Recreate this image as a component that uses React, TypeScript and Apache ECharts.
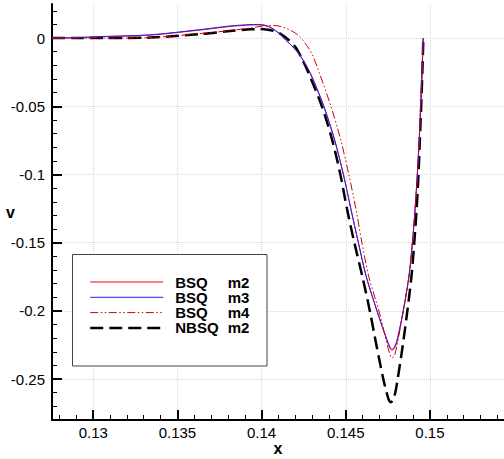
import React, { useEffect, useRef } from 'react';
import * as echarts from 'echarts';

const FONT = '"Liberation Sans", Arial, Helvetica, sans-serif';

const seriesNames = ['BSQ m2', 'BSQ m3', 'BSQ m4', 'NBSQ m2'];

const xMajorTicks = [0.13, 0.135, 0.14, 0.145, 0.15];
const xMinorTicks = [
  0.128, 0.129, 0.13, 0.131, 0.132, 0.133, 0.134, 0.135, 0.136, 0.137, 0.138, 0.139, 0.14,
  0.141, 0.142, 0.143, 0.144, 0.145, 0.146, 0.147, 0.148, 0.149, 0.15, 0.151, 0.152, 0.153, 0.154,
];
const yMajorTicks = [-0.25, -0.2, -0.15, -0.1, -0.05, 0];
const yMinorTicks = [
  -0.27, -0.26, -0.25, -0.24, -0.23, -0.22, -0.21, -0.2, -0.19, -0.18, -0.17, -0.16, -0.15,
  -0.14, -0.13, -0.12, -0.11, -0.1, -0.09, -0.08, -0.07, -0.06, -0.05, -0.04, -0.03, -0.02,
  -0.01, 0, 0.01, 0.02,
];

// BSQ m2
const xM2 = [0.12755, 0.129, 0.1304, 0.13337, 0.13634, 0.13812, 0.13931, 0.13978, 0.1402, 0.14061, 0.14103, 0.14144, 0.14186, 0.14227, 0.14287, 0.1437, 0.14435, 0.14486, 0.1453, 0.14575, 0.14622, 0.14685, 0.14726, 0.14744, 0.14762, 0.14774, 0.14789, 0.14806, 0.14842, 0.14875, 0.14896, 0.14912, 0.14925, 0.14936, 0.14945, 0.14953, 0.1496];
const yM2 = [0, 0.0003, 0.001, 0.0022, 0.0059, 0.0085, 0.0096, 0.0097, 0.0092, 0.0072, 0.0035, -0.0015, -0.0065, -0.0125, -0.025, -0.05, -0.075, -0.1, -0.125, -0.15, -0.175, -0.2, -0.215, -0.2215, -0.2272, -0.229, -0.2274, -0.222, -0.2, -0.175, -0.15, -0.125, -0.1, -0.075, -0.05, -0.025, 0];

// BSQ m3
const xM3 = [0.12755, 0.129, 0.1304, 0.13337, 0.13634, 0.13812, 0.13931, 0.13975, 0.1402, 0.14061, 0.14103, 0.14144, 0.14186, 0.14227, 0.14286, 0.14369, 0.14434, 0.14486, 0.1453, 0.14575, 0.14622, 0.14686, 0.14727, 0.14745, 0.14762, 0.14774, 0.14789, 0.14805, 0.14841, 0.14875, 0.14896, 0.14912, 0.14925, 0.14936, 0.14945, 0.14953, 0.1496];
const yM3 = [0, 0.0003, 0.0011, 0.0024, 0.0062, 0.0089, 0.0099, 0.01, 0.0095, 0.0074, 0.0036, -0.0014, -0.0064, -0.0124, -0.025, -0.05, -0.075, -0.1, -0.125, -0.15, -0.175, -0.2, -0.215, -0.221, -0.2264, -0.228, -0.2266, -0.2212, -0.2, -0.175, -0.15, -0.125, -0.1, -0.075, -0.05, -0.025, 0];

// BSQ m4
const xM4 = [0.12755, 0.129, 0.1304, 0.13337, 0.13634, 0.13812, 0.13931, 0.1402, 0.14061, 0.14103, 0.14144, 0.14186, 0.14227, 0.14263, 0.14299, 0.1434, 0.14412, 0.14471, 0.14518, 0.1456, 0.14596, 0.14637, 0.14697, 0.14747, 0.14762, 0.14774, 0.14789, 0.14803, 0.14842, 0.14875, 0.14896, 0.14912, 0.14925, 0.14936, 0.14945, 0.14953, 0.1496];
const yM4 = [0, 0, 0, 0.0004, 0.0033, 0.0055, 0.0074, 0.009, 0.0093, 0.0088, 0.0072, 0.0048, 0.001, -0.0045, -0.0115, -0.0245, -0.05, -0.075, -0.1, -0.125, -0.15, -0.175, -0.2, -0.225, -0.2318, -0.2345, -0.2328, -0.226, -0.2, -0.175, -0.15, -0.125, -0.1, -0.075, -0.05, -0.025, 0];

// NBSQ m2
const xN2 = [0.12755, 0.129, 0.1304, 0.13337, 0.13634, 0.13812, 0.13931, 0.1399, 0.14037, 0.14079, 0.14121, 0.14162, 0.14204, 0.14239, 0.14275, 0.14358, 0.1442, 0.14468, 0.14507, 0.14551, 0.14599, 0.14643, 0.14682, 0.14723, 0.14741, 0.14756, 0.14768, 0.1478, 0.14795, 0.14809, 0.14839, 0.14866, 0.1489, 0.14907, 0.14921, 0.14932, 0.1494, 0.14948, 0.14955, 0.14961];
const yN2 = [0, 0, 0, 0.0004, 0.0029, 0.0052, 0.0064, 0.0066, 0.0062, 0.005, 0.0025, -0.0015, -0.007, -0.015, -0.0245, -0.05, -0.075, -0.1, -0.125, -0.15, -0.175, -0.2, -0.225, -0.25, -0.259, -0.2653, -0.267, -0.2655, -0.2595, -0.2495, -0.225, -0.2, -0.175, -0.15, -0.125, -0.1, -0.075, -0.05, -0.025, 0];

const pair = (xs: number[], ys: number[]) => xs.map((x, i) => [x, ys[i]]);

const fmt = (v: number) => String(+(+v).toFixed(4));

export default function App() {
  const ref = useRef<HTMLDivElement>(null);
  useEffect(() => {
    if (!ref.current) return;
    const chart = echarts.init(ref.current, undefined, { renderer: 'svg' });
    const axisNameStyle = { fontWeight: 'bold', fontSize: 16, color: '#000', fontFamily: FONT };
    const labelStyle = { color: '#000', fontSize: 15, fontFamily: FONT };
    const gridLine = { show: true, lineStyle: { color: '#d8d8d8', type: 'dotted', width: 1 } };
    const xMin = 0.12755, xMax = 0.1544, yMin = -0.28, yMax = 0.025;
    const smooth = 0.3;
    chart.setOption({
      animation: false,
      backgroundColor: '#fff',
      grid: { left: 52, right: 0, top: 4, bottom: 39, containLabel: false, outerBoundsMode: 'none' },
      xAxis: [
        {
          type: 'value', min: xMin, max: xMax, position: 'bottom',
          axisLine: { show: true, onZero: false, lineStyle: { color: '#000', width: 2 } },
          axisTick: { show: true, inside: true, length: 10, customValues: xMajorTicks, lineStyle: { color: '#000', width: 2 } },
          axisLabel: { show: true, customValues: xMajorTicks, margin: 5, formatter: fmt, ...labelStyle },
          splitLine: { ...gridLine, customValues: xMajorTicks },
          name: 'x', nameLocation: 'middle', nameGap: 20, nameMoveOverlap: false, nameTextStyle: axisNameStyle,
        },
        {
          type: 'value', min: xMin, max: xMax, position: 'bottom',
          axisLine: { show: false, onZero: false },
          axisTick: { show: true, inside: true, length: 5, customValues: xMinorTicks, lineStyle: { color: '#000', width: 1 } },
          axisLabel: { show: false },
          splitLine: { show: false },
        },
      ],
      yAxis: [
        {
          type: 'value', min: yMin, max: yMax, position: 'left',
          axisLine: { show: true, onZero: false, lineStyle: { color: '#000', width: 2 } },
          axisTick: { show: true, inside: true, length: 10, customValues: yMajorTicks, lineStyle: { color: '#000', width: 2 } },
          axisLabel: { show: true, customValues: yMajorTicks, margin: 7, formatter: fmt, ...labelStyle },
          splitLine: { ...gridLine, customValues: yMajorTicks },
          name: 'v', nameLocation: 'middle', nameGap: 37, nameRotate: 0, nameMoveOverlap: false, nameTextStyle: axisNameStyle,
        },
        {
          type: 'value', min: yMin, max: yMax, position: 'left',
          axisLine: { show: false, onZero: false },
          axisTick: { show: true, inside: true, length: 5, customValues: yMinorTicks, lineStyle: { color: '#000', width: 1 } },
          axisLabel: { show: false },
          splitLine: { show: false },
        },
      ],
      legend: {
        orient: 'vertical', left: 89, top: 274.5, padding: 0,
        itemWidth: 73, itemHeight: 10, itemGap: 0.3,
        selectedMode: false, z: 10,
        itemStyle: { opacity: 0 },
        lineStyle: { width: 'inherit' },
        data: seriesNames,
        formatter: (name: string) => {
          const [a, b] = name.split(' ');
          return `{a|${a}}{b|${b}}`;
        },
        textStyle: {
          rich: {
            a: { width: 52.5, padding: [0, 0, 0, 7], fontWeight: 'bold', fontSize: 15, lineHeight: 19, fontFamily: FONT, color: '#000' },
            b: { fontWeight: 'bold', fontSize: 15, lineHeight: 19, fontFamily: FONT, color: '#000' },
          },
        },
      },
      graphic: [
        {
          type: 'rect', z: 5,
          shape: { x: 72.5, y: 254.5, width: 194.5, height: 111.5 },
          style: { fill: '#fff', stroke: '#444', lineWidth: 1 },
        },
      ],
      series: [
        {
          name: seriesNames[0], type: 'line', data: pair(xM2, yM2), symbol: 'none', smooth,
          lineStyle: { color: '#ff0000', width: 1 }, itemStyle: { color: '#ff0000' }, z: 3,
        },
        {
          name: seriesNames[1], type: 'line', data: pair(xM3, yM3), symbol: 'none', smooth,
          lineStyle: { color: '#2020ff', width: 1 }, itemStyle: { color: '#2020ff' }, z: 3,
        },
        {
          name: seriesNames[2], type: 'line', data: pair(xM4, yM4), symbol: 'none', smooth,
          lineStyle: { color: '#cc0000', width: 1, type: [8, 2.5, 1.5, 2.5, 1.5, 2.5] }, itemStyle: { color: '#cc0000' }, z: 3,
        },
        {
          name: seriesNames[3], type: 'line', data: pair(xN2, yN2), symbol: 'none', smooth,
          lineStyle: { color: '#000', width: 2.5, type: [13, 6] }, itemStyle: { color: '#000' }, z: 2,
        },
      ],
    });
    return () => chart.dispose();
  }, []);
  return <div ref={ref} style={{ position: 'fixed', left: 0, top: 0, width: 504, height: 459, background: '#fff' }} />;
}
